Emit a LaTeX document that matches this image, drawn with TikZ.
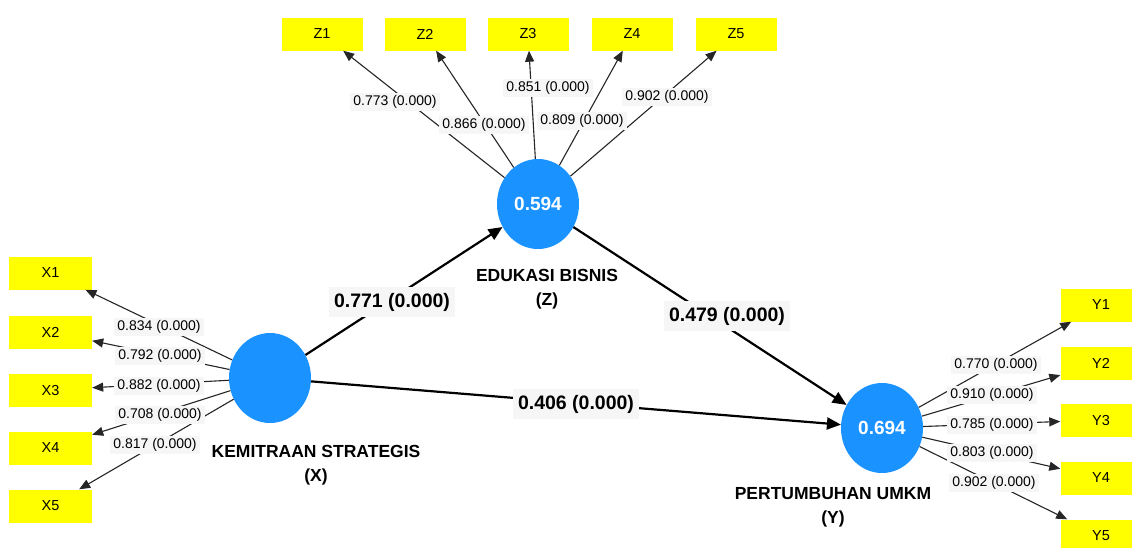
\documentclass[tikz,border=0pt]{standalone}
\usepackage{fontspec}
\setmainfont{Liberation Sans}
\usetikzlibrary{arrows.meta,shapes.geometric}
\definecolor{lvblue}{RGB}{26,146,255}
\definecolor{indyellow}{RGB}{255,255,0}
\definecolor{lblgray}{RGB}{246,246,246}
\tikzset{
  lv/.style={ellipse, fill=lvblue, minimum width=82pt, minimum height=90pt, inner sep=0pt,
    text=white, font=\fontsize{19}{22}\selectfont\bfseries},
  ind/.style={rectangle, fill=indyellow, minimum width=81pt, minimum height=33pt, inner sep=0pt,
    font=\fontsize{14.5}{16}\selectfont},
  load/.style={draw=black!85, line width=1.1pt, -{Triangle[length=11pt,width=9pt]}},
  struct/.style={draw=black, line width=2.2pt, -{Triangle[length=14pt,width=12pt]}},
  ll/.style={fill=lblgray, inner xsep=3pt, inner ysep=2.5pt, font=\fontsize{14}{16}\selectfont},
  sl/.style={fill=lblgray, inner xsep=5pt, inner ysep=6pt, font=\fontsize{19.5}{22}\selectfont\bfseries},
  cname/.style={align=center, inner sep=0pt, font=\fontsize{17.5}{24}\selectfont\bfseries},
}
\begin{document}
\begin{tikzpicture}[x=1pt,y=-1pt]
\useasboundingbox (0,0) rectangle (1132,547);
\fill[white] (0,0) rectangle (1132,547);
\clip (0,0) rectangle (1132,547);

% latent variables
\node[lv] (Z) at (538,204) {0.594};
\node[lv] (X) at (270,378) {};
\node[lv] (Y) at (882,428) {0.694};

% indicators
\node[ind] (Z1) at (322,34) {Z1};
\node[ind] (Z2) at (425,34) {Z2};
\node[ind] (Z3) at (528,34) {Z3};
\node[ind] (Z4) at (632,34) {Z4};
\node[ind] (Z5) at (736,34) {Z5};

\node[ind, minimum width=83pt] (X1) at (50.5,273) {X1};
\node[ind, minimum width=83pt] (X2) at (50.5,332) {X2};
\node[ind, minimum width=83pt] (X3) at (50.5,390) {X3};
\node[ind, minimum width=83pt] (X4) at (50.5,448) {X4};
\node[ind, minimum width=83pt] (X5) at (50.5,506) {X5};

\node[ind] (Y1) at (1101,305) {Y1};
\node[ind] (Y2) at (1101,363) {Y2};
\node[ind] (Y3) at (1101,420) {Y3};
\node[ind] (Y4) at (1101,478) {Y4};
\node[ind] (Y5) at (1101,536) {Y5};

% construct names
\node[cname] (nZ) at (547,289) {EDUKASI BISNIS\\(Z)};
\node[cname] (nX) at (316,465) {KEMITRAAN STRATEGIS\\(X)};
\node[cname] (nY) at (833,507) {PERTUMBUHAN UMKM\\(Y)};

% loadings
\foreach \i in {1,...,5} {
  \draw[load] (Z) -- (Z\i);
  \draw[load] (X) -- (X\i);
  \draw[load] (Y) -- (Y\i);
}

% structural paths
\draw[struct] (X) -- (Z);
\draw[struct] (Z) -- (Y);
\draw[struct] (X) -- (Y);

% loading labels
\node[ll] (lz1) at (395,102) {0.773 (0.000)};
\node[ll] (lz2) at (484,125) {0.866 (0.000)};
\node[ll] (lz3) at (548,88) {0.851 (0.000)};
\node[ll] (lz4) at (582,121) {0.809 (0.000)};
\node[ll] (lz5) at (667,97) {0.902 (0.000)};

\node[ll] (lx1) at (159,327) {0.834 (0.000)};
\node[ll] (lx2) at (160,356) {0.792 (0.000)};
\node[ll] (lx3) at (159,386) {0.882 (0.000)};
\node[ll] (lx4) at (160,415) {0.708 (0.000)};
\node[ll] (lx5) at (155,445) {0.817 (0.000)};

\node[ll] (ly1) at (996,365) {0.770 (0.000)};
\node[ll] (ly2) at (992,395) {0.910 (0.000)};
\node[ll] (ly3) at (992,425) {0.785 (0.000)};
\node[ll] (ly4) at (992,453) {0.803 (0.000)};
\node[ll] (ly5) at (994,483) {0.902 (0.000)};

% path labels
\node[sl] (pxz) at (392,302) {0.771 (0.000)};
\node[sl] (pzy) at (727,316) {0.479 (0.000)};
\node[sl] (pxy) at (576,404) {0.406 (0.000)};
\end{tikzpicture}
\end{document}
